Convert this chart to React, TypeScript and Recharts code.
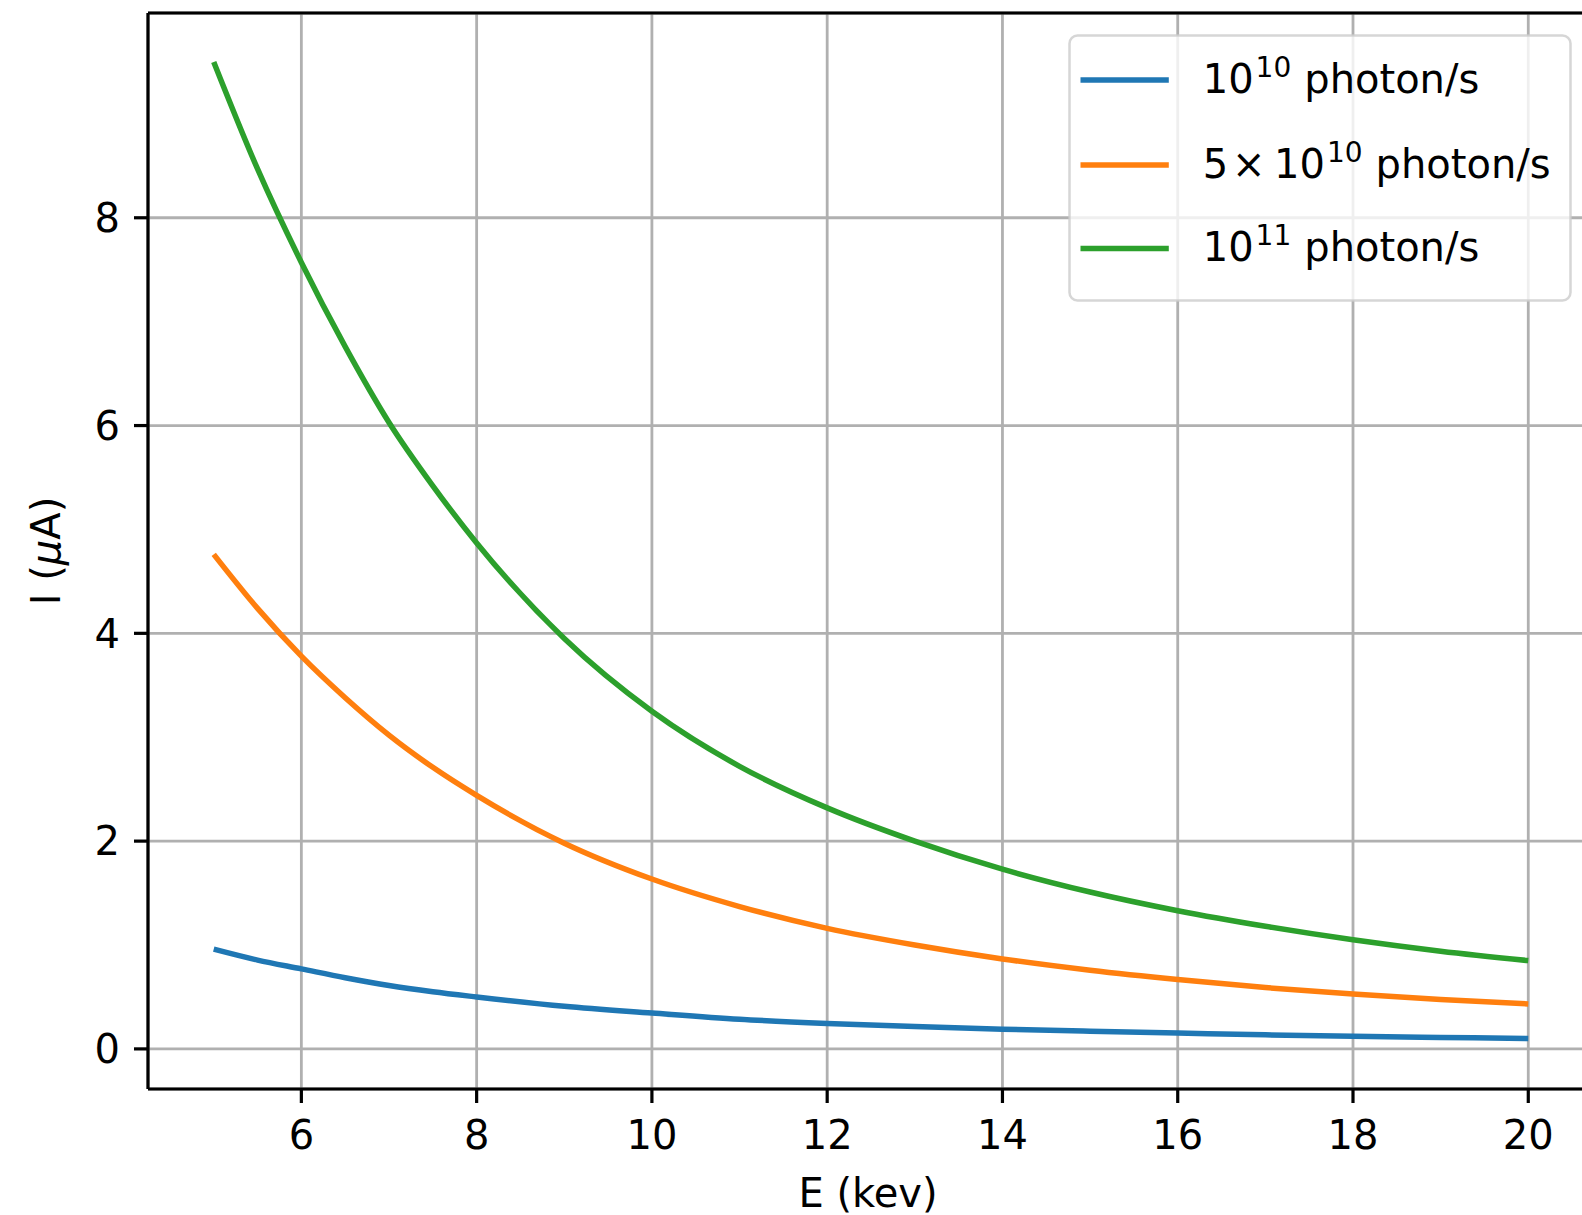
import React from 'react';
import { LineChart, Line, XAxis, YAxis, CartesianGrid, Legend, ReferenceLine } from 'recharts';

const energies = [5, 5.5, 6, 6.5, 7, 7.5, 8, 9, 10, 11, 12, 13, 14, 15, 16, 17, 18, 19, 20];
const flux1e10 = [0.96, 0.855, 0.77, 0.685, 0.61, 0.55, 0.5, 0.41, 0.345, 0.285, 0.245, 0.215, 0.19, 0.17, 0.152, 0.135, 0.121, 0.11, 0.1];
const flux5e10 = [4.76, 4.24, 3.78, 3.38, 3.02, 2.71, 2.44, 1.98, 1.635, 1.37, 1.16, 1.0, 0.866, 0.757, 0.667, 0.59, 0.529, 0.475, 0.433];
const flux1e11 = [9.5, 8.47, 7.57, 6.76, 6.03, 5.42, 4.87, 3.95, 3.25, 2.72, 2.32, 2.0, 1.73, 1.51, 1.33, 1.18, 1.05, 0.94, 0.85];

const xTicks = [6, 8, 10, 12, 14, 16, 18, 20];
const yTicks = [0, 2, 4, 6, 8];
const xDomain = [4.25, 20.75];
const yDomain = [-0.386, 9.971];

const seriesKeys = ['s1', 's2', 's3'];
const seriesNames = ['10^10 photon/s', '5×10^10 photon/s', '10^11 photon/s'];
const seriesColors = ['#1f77b4', '#ff7f0e', '#2ca02c'];
const legendParts = [
  { pre: '', base: '10', sup: '10', rest: 'photon/s' },
  { pre: '5', base: '10', sup: '10', rest: 'photon/s' },
  { pre: '', base: '10', sup: '11', rest: 'photon/s' },
];

const data = energies.map((e, i) => ({
  E: e,
  s1: flux1e10[i],
  s2: flux5e10[i],
  s3: flux1e11[i],
}));

const FONT = 'DejaVu Sans';
const FS = 40;

const LegendBox = (props: any) => {
  const payload = [...(props.payload || [])].sort(
    (a: any, b: any) => seriesKeys.indexOf(a.dataKey) - seriesKeys.indexOf(b.dataKey)
  );
  const rowY = [46, 131, 214.5];
  return (
    <svg width={504} height={268} style={{ display: 'block' }}>
      <rect x={1.5} y={1.5} width={501} height={265} rx={8} ry={8}
        fill="#ffffff" fillOpacity={0.8} stroke="#cccccc" strokeOpacity={0.8} strokeWidth={2.5} />
      {payload.map((p: any, i: number) => {
        const idx = seriesKeys.indexOf(p.dataKey);
        const parts = legendParts[idx];
        const y = rowY[i];
        const base = y + 12.5;
        return (
          <g key={p.dataKey}>
            <line x1={12.5} x2={100.8} y1={y} y2={y} stroke={p.color} strokeWidth={5.5} />
            <text x={134.7} y={base} fontFamily={FONT} fontSize={FS} fill="#000">
              {parts.pre ? (
                <>
                  <tspan>{parts.pre}</tspan>
                  <tspan x={164} fontSize={FS}>×</tspan>
                  <tspan x={206}>{parts.base}</tspan>
                </>
              ) : (
                <tspan>{parts.base}</tspan>
              )}
              <tspan dx={2} dy={-16} fontSize={28}>{parts.sup}</tspan>
              <tspan dx={13} dy={16} fontSize={FS}>{parts.rest}</tspan>
            </text>
          </g>
        );
      })}
    </svg>
  );
};

const YLabel = (props: any) => {
  const vb = props.viewBox || { x: 0, y: 0, width: 0, height: 0 };
  const cx = vb.x + 60;
  const cy = vb.y + vb.height / 2;
  return (
    <text x={cx} y={cy} transform={`rotate(-90 ${cx} ${cy})`} textAnchor="middle"
      fontFamily={FONT} fontSize={FS} fill="#000">
      I (<tspan fontStyle="italic">μ</tspan>A)
    </text>
  );
};

const XLabel = (props: any) => {
  const vb = props.viewBox || { x: 0, y: 0, width: 0, height: 0 };
  const cx = vb.x + vb.width / 2 - 3;
  const cy = vb.y + 117.7;
  return (
    <text x={cx} y={cy} textAnchor="middle" fontFamily={FONT} fontSize={FS} fill="#000">
      E (kev)
    </text>
  );
};

const tickStyle = { fontSize: FS, fill: '#000', fontFamily: FONT };
const axisLineStyle = { stroke: '#000', strokeWidth: 3.2 };

export default function App() {
  return (
    <div style={{ width: 1582, height: 1215, overflow: 'hidden', position: 'relative', background: '#fff' }}>
      <style>{'body{margin:0;overflow:hidden;}'}</style>
      <LineChart width={1600} height={1215} data={data}
        margin={{ top: 13, right: 6, bottom: 0, left: 0 }}>
        <CartesianGrid stroke="#b0b0b0" strokeWidth={2.8} />
        <XAxis dataKey="E" type="number" domain={xDomain} ticks={xTicks}
          allowDataOverflow height={126} tickSize={14} tickMargin={18}
          axisLine={axisLineStyle} tickLine={axisLineStyle} tick={tickStyle}
          interval={0} label={XLabel} />
        <YAxis type="number" domain={yDomain} ticks={yTicks} allowDataOverflow
          width={148} tickSize={14} tickMargin={14}
          axisLine={axisLineStyle} tickLine={axisLineStyle} tick={tickStyle}
          interval={0} label={YLabel} />
        <ReferenceLine y={yDomain[1]} stroke="#000" strokeWidth={3.2} ifOverflow="visible" />
        <ReferenceLine x={xDomain[1]} stroke="#000" strokeWidth={3.2} ifOverflow="visible" />
        {seriesKeys.map((k, i) => (
          <Line key={k} dataKey={k} name={seriesNames[i]} type="monotone" stroke={seriesColors[i]}
            strokeWidth={5.5} dot={false} activeDot={false} isAnimationActive={false} />
        ))}
        <Legend layout="vertical" align="center" verticalAlign="middle"
          wrapperStyle={{ left: 1068, top: 34, width: 504, height: 268 }}
          content={LegendBox} />
      </LineChart>
    </div>
  );
}
